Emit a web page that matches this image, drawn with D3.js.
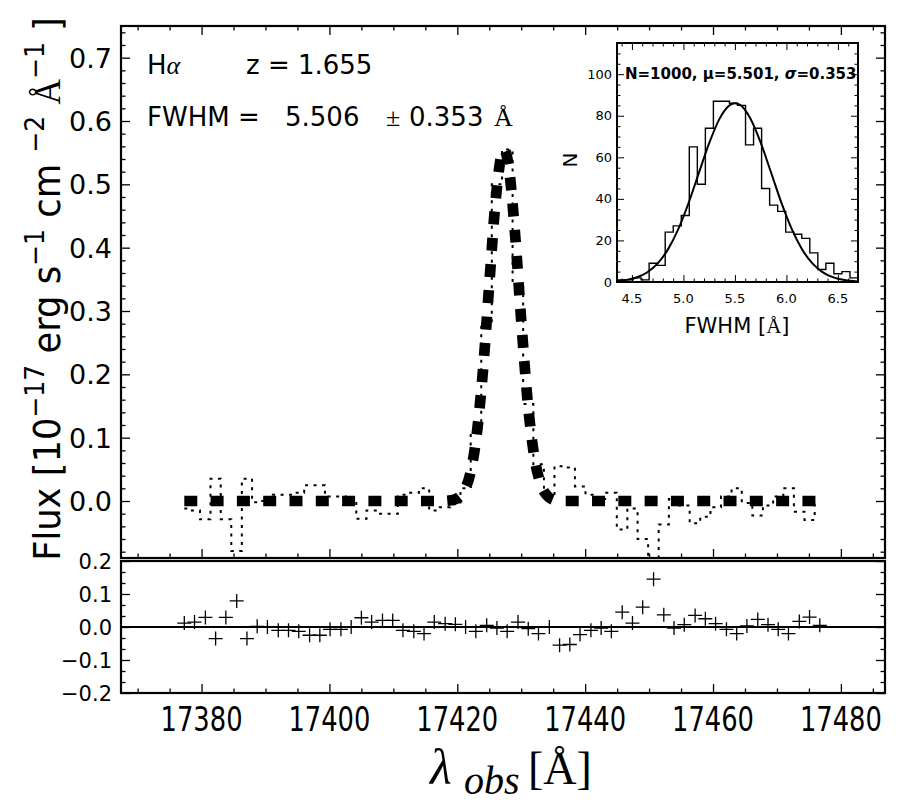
<!DOCTYPE html>
<html><head><meta charset="utf-8">
<script src="https://cdn.jsdelivr.net/npm/d3@7"></script>
<style>body{margin:0;background:#fff} svg{display:block;font-family:"DejaVu Sans",sans-serif}</style>
</head><body><svg id="c" width="914" height="803"></svg>
<script>
// ---------------- data ----------------
const wave = [17377.3,17378.9,17380.6,17382.2,17383.8,17385.5,17387.1,17388.7,17390.3,17392.0,
17393.6,17395.2,17396.9,17398.5,17400.1,17401.8,17403.4,17405.0,17406.6,17408.3,
17409.9,17411.5,17413.2,17414.8,17416.4,17418.1,17419.7,17421.3,17422.9,17424.6,
17426.2,17427.8,17429.5,17431.1,17432.7,17434.4,17436.0,17437.6,17439.2,17440.9,
17442.5,17444.1,17445.8,17447.4,17449.0,17450.7,17452.3,17453.9,17455.5,17457.2,
17458.8,17460.4,17462.1,17463.7,17465.3,17467.0,17468.6,17470.2,17471.8,17473.5,
17475.1,17476.7];
const flux = [-0.012,-0.015,-0.029,0.035,-0.029,-0.079,0.035,-0.002,0.0,0.01,
0.01,0.013,0.025,0.025,0.007,0.007,0.0,-0.028,-0.015,-0.02,
-0.02,0.01,0.013,0.02,-0.015,-0.01,-0.005,0.020,0.107,0.280,
0.500,0.555,0.341,0.153,0.058,0.005,0.055,0.053,0.023,0.01,
0.003,0.013,-0.045,-0.012,-0.06,-0.145,-0.037,0.003,-0.007,-0.035,
-0.025,-0.01,0.007,0.02,-0.003,-0.023,-0.007,0.007,0.02,-0.017,
-0.03,-0.005];
const resid = [0.012,0.015,0.029,-0.035,0.029,0.079,-0.035,0.002,0.0,-0.01,
-0.01,-0.013,-0.025,-0.025,-0.007,-0.007,0.0,0.028,0.015,0.02,
0.02,-0.01,-0.013,-0.02,0.015,0.01,0.008,0.0,-0.013,0.005,
-0.003,-0.013,0.015,-0.005,-0.02,0.0,-0.055,-0.053,-0.023,-0.01,
-0.003,-0.013,0.045,0.012,0.06,0.145,0.037,-0.003,0.007,0.035,
0.025,0.01,-0.007,-0.02,0.003,0.023,0.007,-0.007,-0.02,0.017,
0.03,0.005];
const modelWave = [17377.3,17416,17417,17418,17419,17420,17421,17422,17423,17424,17425,17426,17427,17427.3,
17428,17429,17430,17431,17432,17433,17434,17435,17436,17477.5];
const modelFlux = [0,0,0,0,0.001,0.004,0.015,0.042,0.102,0.204,0.342,0.475,0.550,0.555,
0.531,0.426,0.285,0.158,0.073,0.028,0.009,0.002,0,0];
const histEdges = [4.355,4.433,4.511,4.589,4.667,4.745,4.823,4.901,4.979,5.057,5.135,5.213,5.291,5.369,5.447,
5.525,5.603,5.681,5.759,5.837,5.915,5.993,6.071,6.149,6.227,6.305,6.383,6.461,6.539,6.617,6.695];
const histCounts = [1,1,2,1,9,8,24,27,32,65,47,74,87,87,86,85,66,74,45,37,34,24,23,21,14,6,9,4,5,2];
const fitX = [4.355,4.45,4.55,4.65,4.75,4.85,4.95,5.05,5.15,5.25,5.35,5.45,5.50,5.55,5.65,5.75,5.85,5.95,6.05,6.15,6.25,6.35,6.45,6.55,6.65,6.695];
const fitY = [0.45,1.02,2.28,4.70,8.94,15.7,25.4,38.0,52.5,66.8,78.5,85.1,86.0,85.2,78.7,67.1,52.8,38.3,25.7,15.9,9.05,4.77,2.32,1.04,0.43,0.3];
const xTicks = [17380,17400,17420,17440,17460,17480];
const mainYTicks = [0,0.1,0.2,0.3,0.4,0.5,0.6,0.7];
const residYTicks = [-0.2,-0.1,0,0.1,0.2];
const insetXTicks = [4.5,5.0,5.5,6.0,6.5];
const insetYTicks = [0,20,40,60,80,100];

// ---------------- layout ----------------
const svg = d3.select('#c');
const L=121,R=885,T=26,B1=558,T2=561,B2=693;
const x = d3.scaleLinear().domain([17367.4,17486.9]).range([L,R]);
const y = d3.scaleLinear().domain([-0.09,0.75]).range([B1,T]);
const yr = d3.scaleLinear().domain([-0.2,0.2]).range([B2,T2]);
const IL=617,IR=858,IT=43,IB=282;
const ix = d3.scaleLinear().domain([4.355,6.695]).range([IL,IR]);
const iy = d3.scaleLinear().domain([0,115]).range([IB,IT]);
const serif = '"Liberation Serif","DejaVu Serif",serif';

const defs = svg.append('defs');
defs.append('clipPath').attr('id','clipMain').append('rect').attr('x',L).attr('y',T).attr('width',R-L).attr('height',B1-T);
defs.append('clipPath').attr('id','clipRes').append('rect').attr('x',L).attr('y',T2).attr('width',R-L).attr('height',B2-T2);

function ticks(axisGen, transform, vals, len, sw){
  const g = svg.append('g').attr('transform',transform)
    .call(axisGen.tickValues(vals).tickSize(-len).tickFormat(''));
  g.select('.domain').remove();
  g.selectAll('line').attr('stroke','#000').attr('stroke-width',sw||1.3);
}
const xMinor = d3.range(17370,17486,5).filter(v=>v%20!==0);
const yMinor = d3.range(-8,75,2).map(v=>v/100).filter(v=>Math.abs(v*10-Math.round(v*10))>1e-6);
const yrMinor = d3.range(-6,7).map(v=>v/30).filter(v=>Math.abs(v*10-Math.round(v*10))>1e-6);

// main panel ticks
ticks(d3.axisBottom(x),`translate(0,${B1})`,xTicks,9);
ticks(d3.axisBottom(x),`translate(0,${B1})`,xMinor,4.5);
ticks(d3.axisTop(x),`translate(0,${T})`,xTicks,9);
ticks(d3.axisTop(x),`translate(0,${T})`,xMinor,4.5);
ticks(d3.axisLeft(y),`translate(${L},0)`,mainYTicks,9);
ticks(d3.axisLeft(y),`translate(${L},0)`,yMinor,4.5);
ticks(d3.axisRight(y),`translate(${R},0)`,mainYTicks,9);
ticks(d3.axisRight(y),`translate(${R},0)`,yMinor,4.5);
// residual ticks
ticks(d3.axisBottom(x),`translate(0,${B2})`,xTicks,9);
ticks(d3.axisBottom(x),`translate(0,${B2})`,xMinor,4.5);
ticks(d3.axisLeft(yr),`translate(${L},0)`,residYTicks,9);
ticks(d3.axisLeft(yr),`translate(${L},0)`,yrMinor,4.5);
ticks(d3.axisRight(yr),`translate(${R},0)`,residYTicks,9);
ticks(d3.axisRight(yr),`translate(${R},0)`,yrMinor,4.5);

// main data
const gMain = svg.append('g').attr('clip-path','url(#clipMain)');
gMain.append('path').datum(wave.map((w,i)=>[w,flux[i]]))
  .attr('d',d3.line().x(d=>x(d[0])).y(d=>y(d[1])).curve(d3.curveStep))
  .attr('fill','none').attr('stroke','#000').attr('stroke-width',2).attr('stroke-dasharray','3,5.5');
gMain.append('path').datum(modelWave.map((w,i)=>[w,modelFlux[i]]))
  .attr('d',d3.line().x(d=>x(d[0])).y(d=>y(d[1])).curve(d3.curveMonotoneX))
  .attr('fill','none').attr('stroke','#000').attr('stroke-width',10.7).attr('stroke-dasharray','13,13.3');

// residuals
const gRes = svg.append('g').attr('clip-path','url(#clipRes)');
gRes.append('line').attr('x1',L).attr('x2',R).attr('y1',yr(0)).attr('y2',yr(0)).attr('stroke','#000').attr('stroke-width',2);
gRes.selectAll('path.cross').data(wave.map((w,i)=>[w,resid[i]])).join('path').attr('class','cross')
  .attr('transform',d=>`translate(${x(d[0])},${yr(d[1])})`)
  .attr('d','M-7,0H7M0,-7V7').attr('stroke','#000').attr('stroke-width',1.3).attr('fill','none');

// frames
svg.append('rect').attr('x',L).attr('y',T).attr('width',R-L).attr('height',B1-T).attr('fill','none').attr('stroke','#000').attr('stroke-width',2.2);
svg.append('rect').attr('x',L).attr('y',T2).attr('width',R-L).attr('height',B2-T2).attr('fill','none').attr('stroke','#000').attr('stroke-width',2.2);

// main y labels
const f1 = d3.format('.1f');
svg.append('g').selectAll('text').data(mainYTicks).join('text')
  .attr('x',112).attr('y',d=>y(d)+10).attr('text-anchor','end').attr('font-size',27).text(d=>f1(d));
svg.append('g').selectAll('text').data(residYTicks).join('text')
  .attr('x',112).attr('y',d=>yr(d)+7.5).attr('text-anchor','end').attr('font-size',21).text(d=>f1(d));

// x tick labels (narrow)
xTicks.forEach(t=>{
  const g = svg.append('g').attr('transform',`translate(${x(t)},731)`);
  const tx = g.append('text').attr('text-anchor','middle').attr('font-size',34).text(t);
  const w = tx.node().getBBox().width;
  tx.attr('transform',`scale(${82/w},1)`);
});

// x axis label
const xl = svg.append('text').attr('x',430).attr('y',784).attr('font-family',serif).attr('font-size',50);
xl.append('tspan').attr('font-style','italic').text('λ');
svg.append('text').attr('x',464).attr('y',794).attr('font-family',serif).attr('font-style','italic').attr('font-size',40).text('obs');
svg.append('text').attr('x',528).attr('y',784).attr('font-family',serif).attr('font-size',46).text('[Å]');

// y axis label
const yg = svg.append('g').attr('transform','translate(60,289) rotate(-90)');
const yt = yg.append('text').attr('text-anchor','middle').attr('font-size',38);
yt.append('tspan').text('Flux [10');
yt.append('tspan').attr('font-size',27).attr('dy',-16).text('−17');
yt.append('tspan').attr('dy',16).text(' erg s');
yt.append('tspan').attr('font-size',27).attr('dy',-16).text('−1');
yt.append('tspan').attr('dy',16).text(' cm ');
yt.append('tspan').attr('font-size',27).attr('dy',-16).text('−2');
yt.append('tspan').attr('dy',16).text(' ');
yt.append('tspan').attr('font-family',serif).text('Å');
yt.append('tspan').attr('font-size',27).attr('dy',-16).text('−1');
yt.append('tspan').attr('dy',16).text(' ]');
const yw = yt.node().getBBox().width;
yt.attr('transform',`scale(${544/yw},1)`);

// annotations
const a1 = svg.append('text').attr('x',147).attr('y',74).attr('font-size',26);
a1.append('tspan').text('H');
a1.append('tspan').attr('font-family',serif).attr('font-style','italic').text('α');
svg.append('text').attr('x',246).attr('y',74).attr('font-size',26).text('z = 1.655');
svg.append('text').attr('x',147).attr('y',126).attr('font-size',26).text('FWHM =');
svg.append('text').attr('x',285).attr('y',126).attr('font-size',26).text('5.506');
svg.append('text').attr('x',386).attr('y',126).attr('font-size',26).attr('font-family',serif).text('±');
svg.append('text').attr('x',409).attr('y',126).attr('font-size',26).text('0.353');
svg.append('text').attr('x',494).attr('y',126).attr('font-size',26).attr('font-family',serif).text('Å');

// ---------------- inset ----------------
svg.append('rect').attr('x',IL).attr('y',IT).attr('width',IR-IL).attr('height',IB-IT).attr('fill','#fff');
const ixMinor = d3.range(44,67).map(v=>v/10).filter(v=>Math.abs(v*2-Math.round(v*2))>1e-6);
const iyMinor = d3.range(5,115,5).filter(v=>v%20!==0);
function iticks(axisGen, transform, vals, len){
  const g = svg.append('g').attr('transform',transform)
    .call(axisGen.tickValues(vals).tickSize(-len).tickFormat(''));
  g.select('.domain').remove();
  g.selectAll('line').attr('stroke','#000').attr('stroke-width',1);
}
iticks(d3.axisBottom(ix),`translate(0,${IB})`,insetXTicks,7);
iticks(d3.axisBottom(ix),`translate(0,${IB})`,ixMinor,3.5);
iticks(d3.axisTop(ix),`translate(0,${IT})`,insetXTicks,7);
iticks(d3.axisTop(ix),`translate(0,${IT})`,ixMinor,3.5);
iticks(d3.axisLeft(iy),`translate(${IL},0)`,insetYTicks,7);
iticks(d3.axisLeft(iy),`translate(${IL},0)`,iyMinor,3.5);
iticks(d3.axisRight(iy),`translate(${IR},0)`,insetYTicks,7);
iticks(d3.axisRight(iy),`translate(${IR},0)`,iyMinor,3.5);

// histogram step outline
let hp = `M${ix(histEdges[0])},${iy(0)}`;
histCounts.forEach((c,i)=>{ hp += `V${iy(c)}H${ix(histEdges[i+1])}`; });
hp += `V${iy(0)}`;
svg.append('path').attr('d',hp).attr('fill','none').attr('stroke','#000').attr('stroke-width',1.4);
svg.append('path').datum(fitX.map((v,i)=>[v,fitY[i]]))
  .attr('d',d3.line().x(d=>ix(d[0])).y(d=>iy(d[1])).curve(d3.curveMonotoneX))
  .attr('fill','none').attr('stroke','#000').attr('stroke-width',2);
svg.append('rect').attr('x',IL).attr('y',IT).attr('width',IR-IL).attr('height',IB-IT).attr('fill','none').attr('stroke','#000').attr('stroke-width',2);

svg.append('g').selectAll('text').data(insetYTicks).join('text')
  .attr('x',612).attr('y',d=>iy(d)+4.5).attr('text-anchor','end').attr('font-size',13).text(d=>d);
svg.append('g').selectAll('text').data(insetXTicks).join('text')
  .attr('x',d=>ix(d)).attr('y',303).attr('text-anchor','middle').attr('font-size',13).text(d=>d3.format('.1f')(d));
const st = svg.append('text').attr('x',625).attr('y',79).attr('font-size',15).attr('font-weight','bold');
st.append('tspan').text('N=1000, μ=5.501, ');
st.append('tspan').attr('font-style','italic').text('σ');
st.append('tspan').text('=0.353');
svg.append('text').attr('transform','translate(577,160) rotate(-90)').attr('text-anchor','middle').attr('font-size',20).text('N');
const fl = svg.append('text').attr('x',737).attr('y',333).attr('text-anchor','middle').attr('font-size',21);
fl.append('tspan').text('FWHM [');
fl.append('tspan').attr('font-family',serif).text('Å');
fl.append('tspan').text(']');
</script></body></html>
